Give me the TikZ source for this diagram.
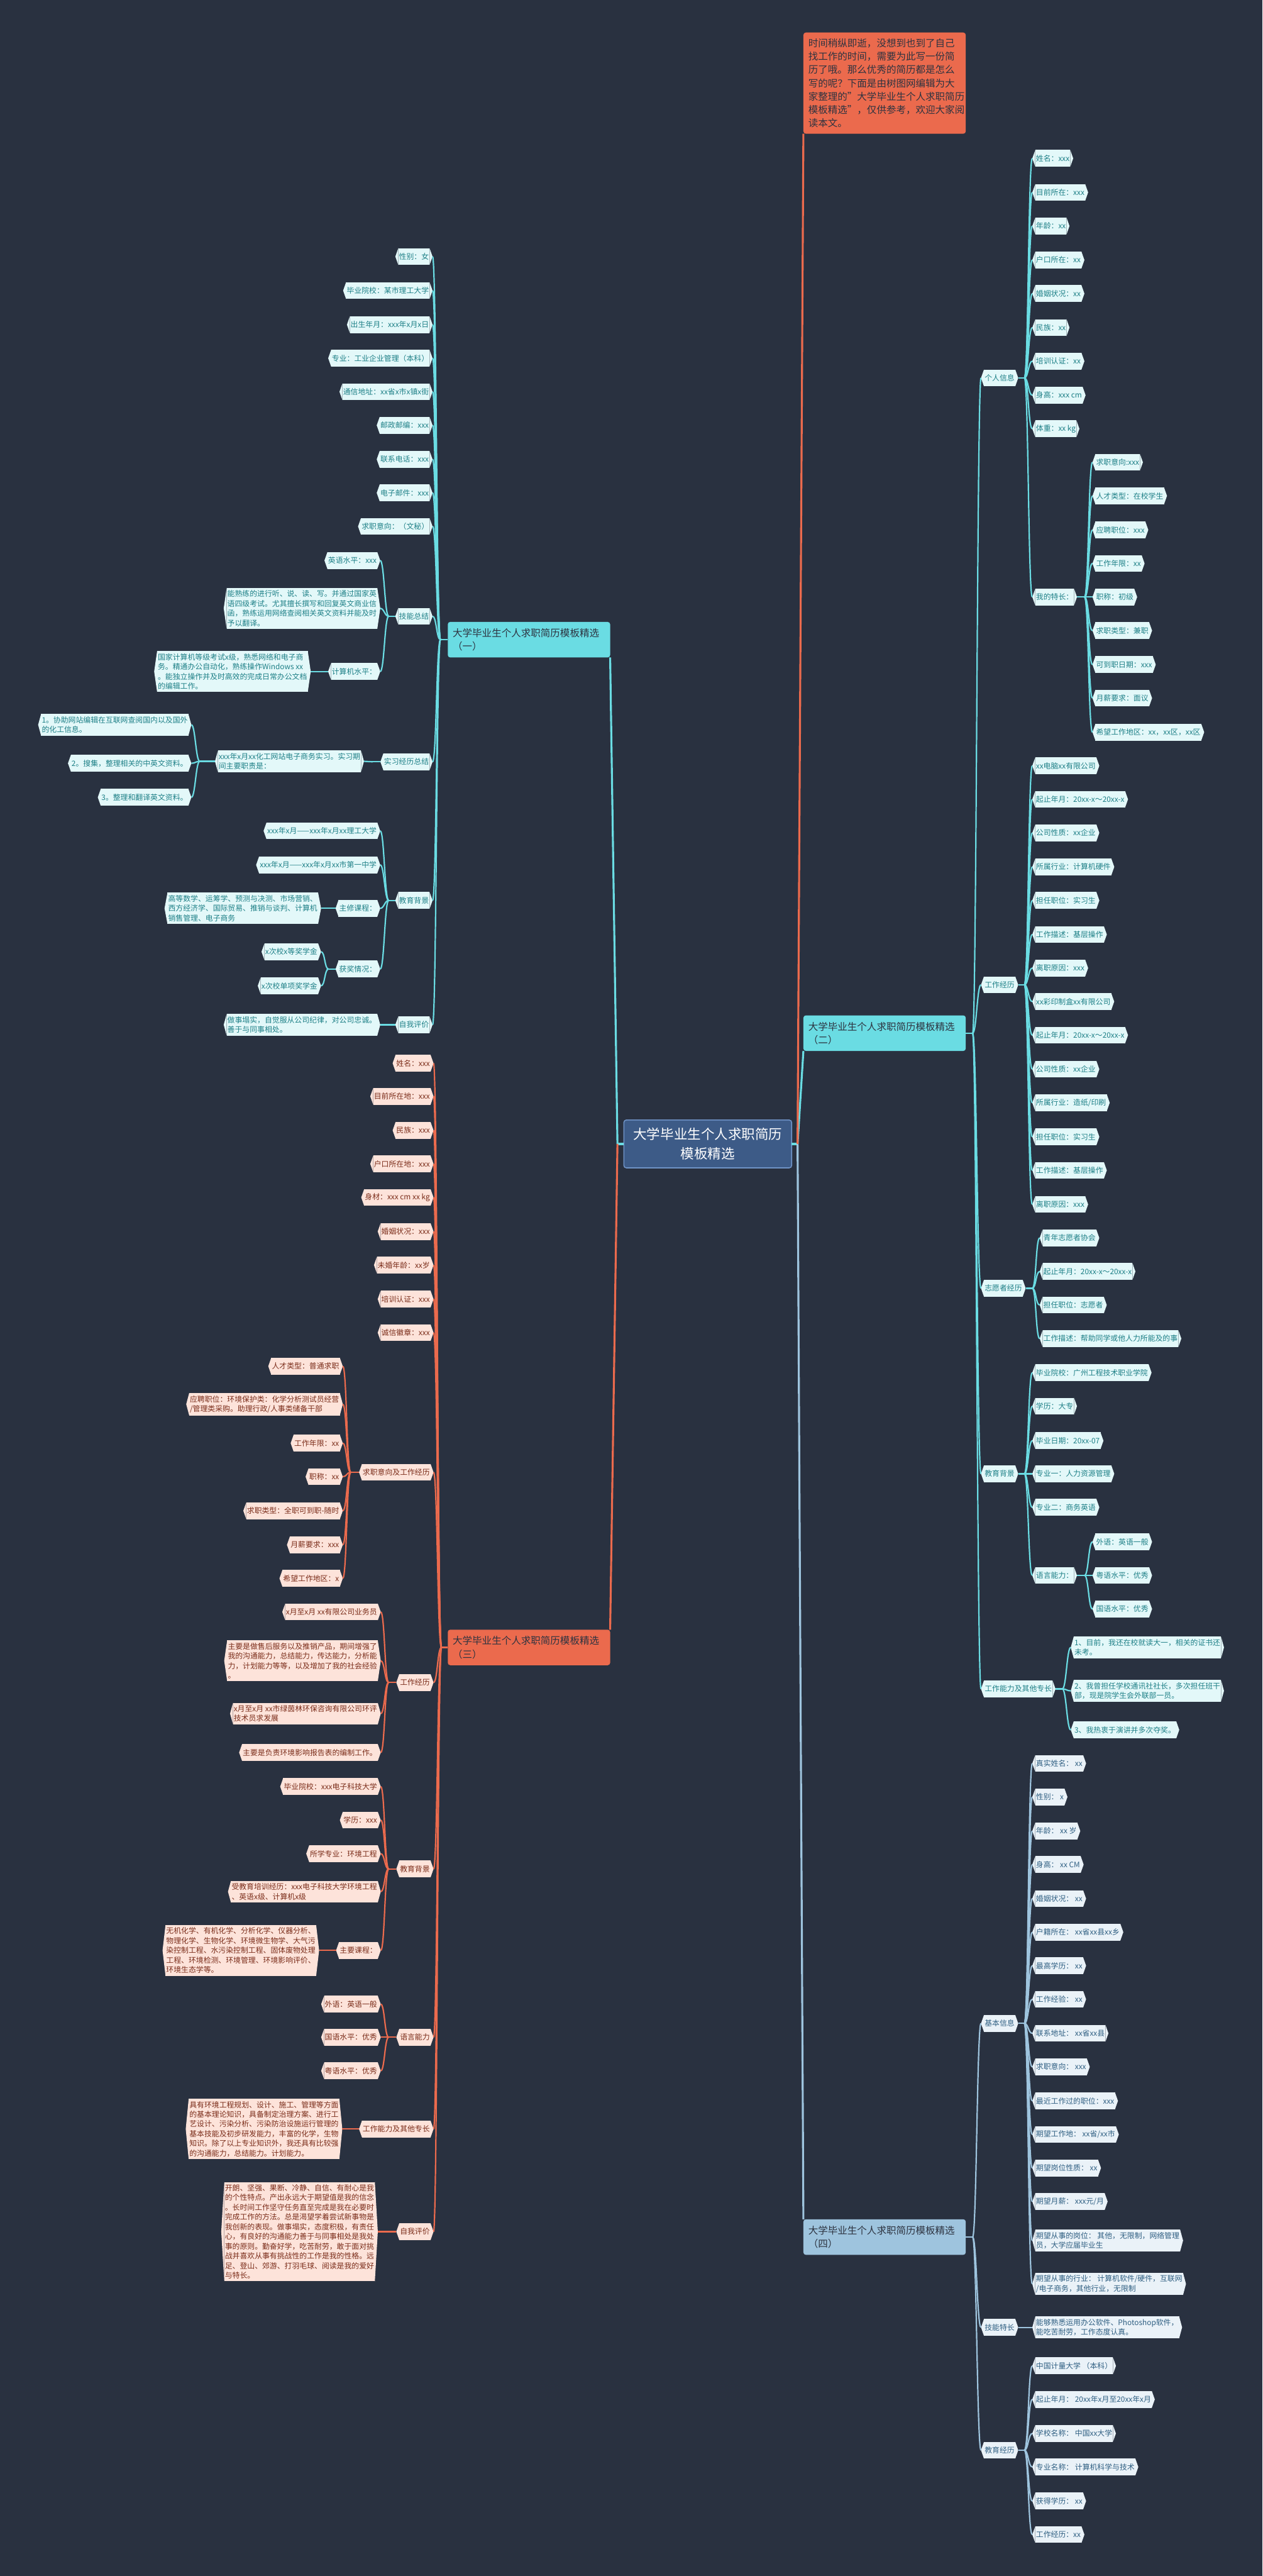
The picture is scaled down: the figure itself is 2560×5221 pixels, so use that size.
\documentclass[tikz,border=0pt]{standalone}
\usepackage{fontspec}
\setmainfont{Noto Sans CJK SC}
\usetikzlibrary{calc,shapes.misc}
\definecolor{bgc}{HTML}{293140}
\definecolor{lnA}{HTML}{6ADCE3}
\definecolor{lfA}{HTML}{E3F8F9}
\definecolor{ltA}{HTML}{1E8087}
\definecolor{lnB}{HTML}{EB6A4D}
\definecolor{lfB}{HTML}{FDE3DA}
\definecolor{ltB}{HTML}{7B2D1A}
\definecolor{lnC}{HTML}{9EC4DE}
\definecolor{lfC}{HTML}{EAF2F8}
\definecolor{ltC}{HTML}{2F5F82}
\definecolor{ctr}{HTML}{3D5B87}
\definecolor{ctrb}{HTML}{6F93C6}
\definecolor{btx}{HTML}{2D3340}
\newcommand\myleaf{\fontsize{4.3pt}{5.6pt}\selectfont}
\newcommand\mybranch{\fontsize{5.63pt}{7.7pt}\selectfont}
\newcommand\mycenter{\fontsize{7.8pt}{11.4pt}\selectfont}
\tikzset{
 leaf/.style={inner xsep=0.015cm, inner ysep=0.05cm, minimum height=0.34cm, outer sep=0pt, align=left, font=\myleaf},
 leafA/.style={fill=lfA, text=ltA},
 leafB/.style={fill=lfB, text=ltB},
 leafC/.style={fill=lfC, text=ltC},
 lineA/.style={draw=lnA, line width=0.028cm},
 lineB/.style={draw=lnB, line width=0.028cm},
 lineC/.style={draw=lnC, line width=0.028cm},
 mainA/.style={draw=lnA, line width=0.04cm},
 mainB/.style={draw=lnB, line width=0.04cm},
 mainC/.style={draw=lnC, line width=0.04cm},
 branchbox/.style={rectangle, rounded corners=0.05cm, font=\mybranch, text=btx, outer sep=0pt},
 topbranch/.style={branchbox, text width=3.09cm, inner xsep=0.1cm, minimum height=0.72cm, align=left},
}
% right-side leaf: name, west tip x, y, branch, text
\newcommand\LR[5]{%
\node[leaf,leaf#4,anchor=west] (#1) at ({#2+6},#3) {#5};
\fill[lf#4] (#1.north east) -- ($(#1.east)+(6,0)$) coordinate (#1e) -- (#1.south east) -- cycle;
\fill[lf#4] (#1.north west) -- ($(#1.west)+(-6,0)$) coordinate (#1w) -- (#1.south west) -- cycle;}
% left-side leaf: name, east tip x, y, branch, text
\newcommand\LL[5]{%
\node[leaf,leaf#4,anchor=east] (#1) at ({#2-6},#3) {#5};
\fill[lf#4] (#1.north east) -- ($(#1.east)+(6,0)$) coordinate (#1e) -- (#1.south east) -- cycle;
\fill[lf#4] (#1.north west) -- ($(#1.west)+(-6,0)$) coordinate (#1w) -- (#1.south west) -- cycle;}
% fans: style, parent, junction x, children
\newcommand\FR[4]{%
\coordinate (jxx) at (#3,0);
\draw[#1] (#2e) -- (#2e -| jxx) coordinate (jj);
\foreach \cn in {#4}{\draw[#1] (jj) .. controls +(8,0) and +(-8,0) .. (\cn w);}}
\newcommand\FL[4]{%
\coordinate (jxx) at (#3,0);
\draw[#1] (#2w) -- (#2w -| jxx) coordinate (jj);
\foreach \cn in {#4}{\draw[#1] (jj) .. controls +(-8,0) and +(8,0) .. (\cn e);}}
\begin{document}
\begin{tikzpicture}[x=0.01cm,y=-0.01cm]
\useasboundingbox (0,0) rectangle (2560,5221);
\fill[bgc] (0,0) rectangle (2560,5221);

% ---------- center, intro, branches ----------
\node[branchbox, fill=ctr, draw=ctrb, line width=0.02cm, text=white, font=\mycenter, minimum width=3.4cm, minimum height=0.97cm, align=center] (C) at (1435,2318.5) {大学毕业生个人求职简历\\模板精选};
\node[branchbox, fill=lnB, text width=3.09cm, inner xsep=0.1cm, inner ysep=0.08cm, minimum height=2.05cm, align=left] (I) at (1793.5,168.5) {时间稍纵即逝，没想到也到了自己\\找工作的时间，需要为此写一份简\\历了哦。那么优秀的简历都是怎么\\写的呢？下面是由树图网编辑为大\\家整理的"大学毕业生个人求职简历\\模板精选"，仅供参考，欢迎大家阅\\读本文。};
\node[topbranch, fill=lnA] (B1) at (1072.5,1296.5) {大学毕业生个人求职简历模板精选\\（一）};
\node[topbranch, fill=lnA] (B2) at (1793.5,2094) {大学毕业生个人求职简历模板精选\\（二）};
\node[topbranch, fill=lnB] (B3) at (1072.5,3339) {大学毕业生个人求职简历模板精选\\（三）};
\node[topbranch, fill=lnC] (B4) at (1793.5,4534) {大学毕业生个人求职简历模板精选\\（四）};
\coordinate (B1w) at (B1.west);
\coordinate (B3w) at (B3.west);
\coordinate (B2e) at (B2.east);
\coordinate (B4e) at (B4.east);

% ---------- (二) ----------
\LR{P}{1989}{766}{A}{个人信息}
\LR{p1}{2093}{321}{A}{姓名：xxx}
\LR{p2}{2093}{390}{A}{目前所在：xxx}
\LR{p3}{2093}{458}{A}{年龄：xx}
\LR{p4}{2093}{527}{A}{户口所在：xx}
\LR{p5}{2093}{595}{A}{婚姻状况：xx}
\LR{p6}{2093}{664}{A}{民族：xx}
\LR{p7}{2093}{732}{A}{培训认证：xx}
\LR{p8}{2093}{801}{A}{身高：xxx cm}
\LR{p9}{2093}{869}{A}{体重：xx kg}
\LR{PT}{2093}{1210}{A}{我的特长：}
\LR{t1}{2215}{937}{A}{求职意向:xxx}
\LR{t2}{2215}{1005}{A}{人才类型：在校学生}
\LR{t3}{2215}{1074}{A}{应聘职位：xxx}
\LR{t4}{2215}{1142}{A}{工作年限：xx}
\LR{t5}{2215}{1210}{A}{职称：初级}
\LR{t6}{2215}{1278}{A}{求职类型：兼职}
\LR{t7}{2215}{1347}{A}{可到职日期：xxx}
\LR{t8}{2215}{1415}{A}{月薪要求：面议}
\LR{t9}{2215}{1484}{A}{希望工作地区：xx，xx区，xx区}
\LR{W}{1989}{1996}{A}{工作经历}
\LR{w1}{2093}{1552}{A}{xx电脑xx有限公司}
\LR{w2}{2093}{1620}{A}{起止年月：20xx-x～20xx-x}
\LR{w3}{2093}{1688}{A}{公司性质：xx企业}
\LR{w4}{2093}{1757}{A}{所属行业：计算机硬件}
\LR{w5}{2093}{1825}{A}{担任职位：实习生}
\LR{w6}{2093}{1894}{A}{工作描述：基层操作}
\LR{w7}{2093}{1962}{A}{离职原因：xxx}
\LR{w8}{2093}{2030}{A}{xx彩印制盒xx有限公司}
\LR{w9}{2093}{2098}{A}{起止年月：20xx-x～20xx-x}
\LR{w10}{2093}{2167}{A}{公司性质：xx企业}
\LR{w11}{2093}{2235}{A}{所属行业：造纸/印刷}
\LR{w12}{2093}{2304}{A}{担任职位：实习生}
\LR{w13}{2093}{2372}{A}{工作描述：基层操作}
\LR{w14}{2093}{2441}{A}{离职原因：xxx}
\LR{V}{1989}{2611}{A}{志愿者经历}
\LR{v1}{2108}{2509}{A}{青年志愿者协会}
\LR{v2}{2108}{2577}{A}{起止年月：20xx-x～20xx-x}
\LR{v3}{2108}{2645}{A}{担任职位：志愿者}
\LR{v4}{2108}{2713}{A}{工作描述：帮助同学或他人力所能及的事}
\LR{E}{1989}{2987}{A}{教育背景}
\LR{e1}{2093}{2782}{A}{毕业院校：广州工程技术职业学院}
\LR{e2}{2093}{2850}{A}{学历：大专}
\LR{e3}{2093}{2920}{A}{毕业日期：20xx-07}
\LR{e4}{2093}{2987}{A}{专业一：人力资源管理}
\LR{e5}{2093}{3055}{A}{专业二：商务英语}
\LR{EL}{2093}{3193}{A}{语言能力：}
\LR{l1}{2215}{3125}{A}{外语：英语一般}
\LR{l2}{2215}{3193}{A}{粤语水平：优秀}
\LR{l3}{2215}{3261}{A}{国语水平：优秀}
\LR{S}{1989}{3423}{A}{工作能力及其他专长}
\LR{s1}{2171}{3339}{A}{1、目前，我还在校就读大一，相关的证书还\\未考。}
\LR{s2}{2171}{3427}{A}{2、我曾担任学校通讯社社长，多次担任班干\\部，现是院学生会外联部一员。}
\LR{s3}{2171}{3506}{A}{3、我热衷于演讲并多次夺奖。}

% ---------- (四) ----------
\LR{Q}{1989}{4101}{C}{基本信息}
\LR{q1}{2093}{3574}{C}{真实姓名： xx}
\LR{q2}{2093}{3642}{C}{性别： x}
\LR{q3}{2093}{3711}{C}{年龄： xx 岁}
\LR{q4}{2093}{3779}{C}{身高： xx CM}
\LR{q5}{2093}{3848}{C}{婚姻状况： xx}
\LR{q6}{2093}{3916}{C}{户籍所在： xx省xx县xx乡}
\LR{q7}{2093}{3984}{C}{最高学历： xx}
\LR{q8}{2093}{4052}{C}{工作经验： xx}
\LR{q9}{2093}{4121}{C}{联系地址： xx省xx县}
\LR{q10}{2093}{4189}{C}{求职意向： xxx}
\LR{q11}{2093}{4258}{C}{最近工作过的职位：xxx}
\LR{q12}{2093}{4326}{C}{期望工作地： xx省/xx市}
\LR{q13}{2093}{4394}{C}{期望岗位性质： xx}
\LR{q14}{2093}{4462}{C}{期望月薪： xxx元/月}
\LR{q15}{2093}{4541}{C}{期望从事的岗位： 其他，无限制，网络管理\\员，大学应届毕业生}
\LR{q16}{2093}{4629}{C}{期望从事的行业： 计算机软件/硬件，互联网\\/电子商务，其他行业，无限制}
\LR{K}{1989}{4717}{C}{技能特长}
\LR{k1}{2093}{4717}{C}{能够熟悉运用办公软件、Photoshop软件，\\能吃苦耐劳，工作态度认真。}
\LR{D}{1989}{4966}{C}{教育经历}
\LR{d1}{2093}{4795}{C}{中国计量大学 （本科）}
\LR{d2}{2093}{4863}{C}{起止年月： 20xx年x月至20xx年x月}
\LR{d3}{2093}{4932}{C}{学校名称： 中国xx大学}
\LR{d4}{2093}{5000}{C}{专业名称： 计算机科学与技术}
\LR{d5}{2093}{5069}{C}{获得学历： xx}
\LR{d6}{2093}{5137}{C}{工作经历：xx}

% ---------- (一) ----------
\LL{a1}{877}{520}{A}{性别：女}
\LL{a2}{877}{589}{A}{毕业院校：某市理工大学}
\LL{a3}{877}{658}{A}{出生年月：xxx年x月x日}
\LL{a4}{877}{726}{A}{专业：工业企业管理（本科）}
\LL{a5}{877}{794}{A}{通信地址：xx省x市x镇x街}
\LL{a6}{877}{862}{A}{邮政邮编：xxx}
\LL{a7}{877}{931}{A}{联系电话：xxx}
\LL{a8}{877}{999}{A}{电子邮件：xxx}
\LL{a9}{877}{1067}{A}{求职意向：（文秘）}
\LL{AK}{877}{1249}{A}{技能总结}
\LL{ak1}{771}{1136}{A}{英语水平：xxx}
\LL{ak2}{771}{1233}{A}{能熟练的进行听、说、读、写。并通过国家英\\语四级考试。尤其擅长撰写和回复英文商业信\\函，熟练运用网络查阅相关英文资料并能及时\\予以翻译。}
\LL{ak3}{771}{1361}{A}{计算机水平：}
\LL{ak3a}{630}{1361}{A}{国家计算机等级考试x级，熟悉网络和电子商\\务。精通办公自动化，熟练操作Windows xx\\。能独立操作并及时高效的完成日常办公文档\\的编辑工作。}
\LL{AI}{877}{1544}{A}{实习经历总结}
\LL{ai1}{738}{1543}{A}{xxx年x月xx化工网站电子商务实习。实习期\\间主要职责是：}
\LL{ai1a}{388}{1469}{A}{1。协助网站编辑在互联网查阅国内以及国外\\的化工信息。}
\LL{ai1b}{388}{1547}{A}{2。搜集，整理相关的中英文资料。}
\LL{ai1c}{388}{1616}{A}{3。整理和翻译英文资料。}
\LL{AE}{877}{1825}{A}{教育背景}
\LL{ae1}{771}{1684}{A}{xxx年x月——xxx年x月xx理工大学}
\LL{ae2}{771}{1753}{A}{xxx年x月——xxx年x月xx市第一中学}
\LL{ae3}{771}{1841}{A}{主修课程：}
\LL{ae3a}{651}{1841}{A}{高等数学、运筹学、预测与决测、市场营销、\\西方经济学、国际贸易、推销与谈判、计算机\\销售管理、电子商务}
\LL{ae4}{771}{1964}{A}{获奖情况：}
\LL{ae4a}{651}{1929}{A}{x次校x等奖学金}
\LL{ae4b}{651}{1998}{A}{x次校单项奖学金}
\LL{AS}{877}{2077}{A}{自我评价}
\LL{as1}{771}{2077}{A}{做事塌实，自觉服从公司纪律，对公司忠诚。\\善于与同事相处。}

% ---------- (三) ----------
\LL{c1}{879}{2155}{B}{姓名：xxx}
\LL{c2}{879}{2222}{B}{目前所在地：xxx}
\LL{c3}{879}{2291}{B}{民族：xxx}
\LL{c4}{879}{2359}{B}{户口所在地：xxx}
\LL{c5}{879}{2427}{B}{身材：xxx cm xx kg}
\LL{c6}{879}{2496}{B}{婚姻状况：xxx}
\LL{c7}{879}{2564}{B}{未婚年龄：xx岁}
\LL{c8}{879}{2633}{B}{培训认证：xxx}
\LL{c9}{879}{2701}{B}{诚信徽章：xxx}
\LL{CJ}{879}{2984}{B}{求职意向及工作经历}
\LL{cj1}{695}{2769}{B}{人才类型：普通求职}
\LL{cj2}{695}{2846}{B}{应聘职位：环境保护类：化学分析测试员经营\\/管理类采购。助理行政/人事类储备干部}
\LL{cj3}{695}{2925}{B}{工作年限：xx}
\LL{cj4}{695}{2993}{B}{职称：xx}
\LL{cj5}{695}{3062}{B}{求职类型：全职可到职-随时}
\LL{cj6}{695}{3131}{B}{月薪要求：xxx}
\LL{cj7}{695}{3199}{B}{希望工作地区：x}
\LL{CW}{879}{3410}{B}{工作经历}
\LL{cw1}{772}{3267}{B}{x月至x月 xx有限公司业务员}
\LL{cw2}{772}{3366}{B}{主要是做售后服务以及推销产品，期间增强了\\我的沟通能力，总结能力，传达能力，分析能\\力，计划能力等等，以及增加了我的社会经验\\。}
\LL{cw3}{772}{3473}{B}{x月至x月 xx市绿茵林环保咨询有限公司环评\\技术员求发展}
\LL{cw4}{772}{3552}{B}{主要是负责环境影响报告表的编制工作。}
\LL{CE}{879}{3788}{B}{教育背景}
\LL{ce1}{772}{3621}{B}{毕业院校：xxx电子科技大学}
\LL{ce2}{772}{3689}{B}{学历：xxx}
\LL{ce3}{772}{3757}{B}{所学专业：环境工程}
\LL{ce4}{772}{3834}{B}{受教育培训经历：xxx电子科技大学环境工程\\、英语x级、计算机x级}
\LL{ce5}{772}{3953}{B}{主要课程：}
\LL{ce5a}{647}{3953}{B}{无机化学、有机化学、分析化学、仪器分析、\\物理化学、生物化学、环境微生物学、大气污\\染控制工程、水污染控制工程、固体废物处理\\工程、环境检测、环境管理、环境影响评价、\\环境生态学等。}
\LL{CL}{879}{4129}{B}{语言能力}
\LL{cl1}{772}{4062}{B}{外语：英语一般}
\LL{cl2}{772}{4129}{B}{国语水平：优秀}
\LL{cl3}{772}{4197}{B}{粤语水平：优秀}
\LL{CS}{879}{4315}{B}{工作能力及其他专长}
\LL{cs1}{694}{4315}{B}{具有环境工程规划、设计、施工、管理等方面\\的基本理论知识，具备制定治理方案、进行工\\艺设计、污染分析、污染防治设施运行管理的\\基本技能及初步研发能力，丰富的化学，生物\\知识。除了以上专业知识外，我还具有比较强\\的沟通能力，总结能力。计划能力。}
\LL{CV}{879}{4523}{B}{自我评价}
\LL{cv1}{766}{4523}{B}{开朗、坚强、果断、冷静、自信、有耐心是我\\的个性特点。产出永远大于期望值是我的信念\\。长时间工作坚守任务直至完成是我在必要时\\完成工作的方法。总是渴望学着尝试新事物是\\我创新的表现。做事塌实，态度积极，有责任\\心，有良好的沟通能力善于与同事相处是我处\\事的原则。勤奋好学，吃苦耐劳，敢于面对挑\\战并喜欢从事有挑战性的工作是我的性格。远\\足、登山、郊游、打羽毛球、阅读是我的爱好\\与特长。}

% ---------- connectors ----------
\FR{lineA}{B2}{1972}{P,W,V,E,S}
\FR{lineA}{P}{2077}{p1,p2,p3,p4,p5,p6,p7,p8,p9,PT}
\FR{lineA}{PT}{2199}{t1,t2,t3,t4,t5,t6,t7,t8,t9}
\FR{lineA}{W}{2077}{w1,w2,w3,w4,w5,w6,w7,w8,w9,w10,w11,w12,w13,w14}
\FR{lineA}{V}{2093}{v1,v2,v3,v4}
\FR{lineA}{E}{2077}{e1,e2,e3,e4,e5,EL}
\FR{lineA}{EL}{2199}{l1,l2,l3}
\FR{lineA}{S}{2154}{s1,s2,s3}

\FR{lineC}{B4}{1972}{Q,K,D}
\FR{lineC}{Q}{2077}{q1,q2,q3,q4,q5,q6,q7,q8,q9,q10,q11,q12,q13,q14,q15,q16}
\FR{lineC}{K}{2077}{k1}
\FR{lineC}{D}{2077}{d1,d2,d3,d4,d5,d6}

\FL{lineA}{B1}{893}{a1,a2,a3,a4,a5,a6,a7,a8,a9,AK,AI,AE,AS}
\FL{lineA}{AK}{788}{ak1,ak2,ak3}
\FL{lineA}{ak3}{650}{ak3a}
\FL{lineA}{AI}{756}{ai1}
\FL{lineA}{ai1}{405}{ai1a,ai1b,ai1c}
\FL{lineA}{AE}{788}{ae1,ae2,ae3,ae4}
\FL{lineA}{ae3}{666}{ae3a}
\FL{lineA}{ae4}{666}{ae4a,ae4b}
\FL{lineA}{AS}{788}{as1}

\FL{lineB}{B3}{895}{c1,c2,c3,c4,c5,c6,c7,c8,c9,CJ,CW,CE,CL,CS,CV}
\FL{lineB}{CJ}{711}{cj1,cj2,cj3,cj4,cj5,cj6,cj7}
\FL{lineB}{CW}{788}{cw1,cw2,cw3,cw4}
\FL{lineB}{CE}{788}{ce1,ce2,ce3,ce4,ce5}
\FL{lineB}{ce5}{665}{ce5a}
\FL{lineB}{CL}{788}{cl1,cl2,cl3}
\FL{lineB}{CS}{710}{cs1}
\FL{lineB}{CV}{786}{cv1}

% main connectors from the centre
\draw[mainA] (C.west) -- ++(-13,0) coordinate (ctrL);
\draw[mainA] (ctrL) -- (B1.south east);
\draw[mainB] (ctrL) -- (B3.north east);
\draw[mainA] (C.east) -- ++(12,0) coordinate (ctrR);
\draw[mainA] (ctrR) -- (B2.south west);
\draw[mainC] (ctrR) -- (B4.north west);
\draw[mainB] (ctrR) -- (I.south west);
\end{tikzpicture}
\end{document}
